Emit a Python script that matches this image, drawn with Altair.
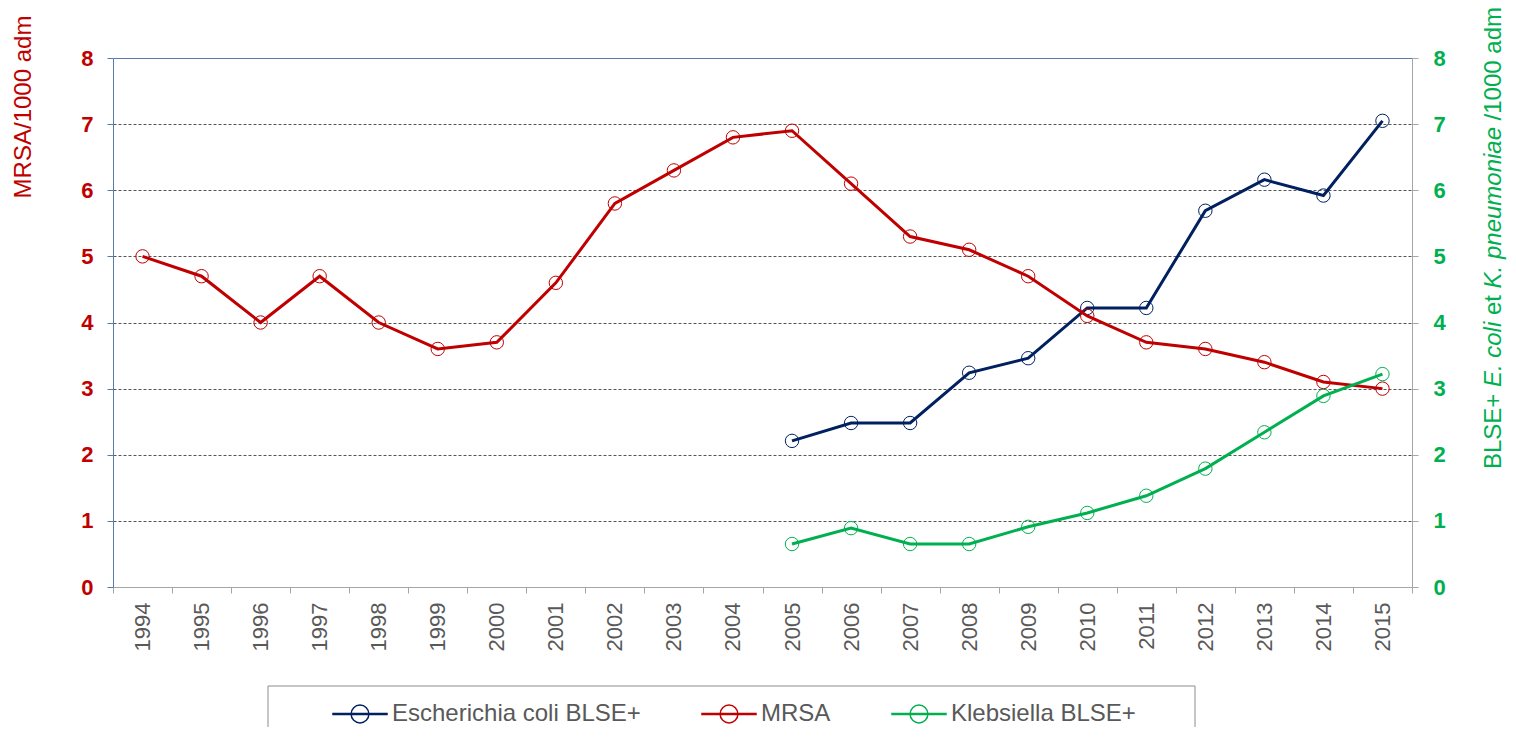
import altair as alt
import pandas as pd

years = [str(y) for y in range(1994, 2016)]
mrsa = [5.0, 4.7, 4.0, 4.7, 4.0, 3.6, 3.7, 4.6, 5.8, 6.3, 6.8, 6.9, 6.1, 5.3, 5.1, 4.7, 4.1, 3.7, 3.6, 3.4, 3.1, 3.0]
ecoli_years = [str(y) for y in range(2005, 2016)]
ecoli = [2.21, 2.48, 2.48, 3.24, 3.46, 4.22, 4.22, 5.69, 6.16, 5.92, 7.05]
kleb = [0.65, 0.89, 0.65, 0.65, 0.91, 1.12, 1.38, 1.79, 2.34, 2.89, 3.22]

series_names = ["Escherichia coli BLSE+", "MRSA", "Klebsiella BLSE+"]
series_colors = ["#002060", "#c00000", "#00b050"]
left_title = "MRSA/1000 adm"
right_title_pieces = ["BLSE+", "E. coli", "et", "K. pneumoniae", "/1000 adm"]
right_title_italic = [False, True, False, True, False]

FONT = "Liberation Sans"

df = pd.concat([
    pd.DataFrame({"year": years, "value": mrsa, "series": series_names[1]}),
    pd.DataFrame({"year": ecoli_years, "value": ecoli, "series": series_names[0]}),
    pd.DataFrame({"year": ecoli_years, "value": kleb, "series": series_names[2]}),
], ignore_index=True)

W, H = 1299, 529

legend_path = ("M-1,-0.02L1,-0.02L1,0.02L-1,0.02Z "
               "M0.33,0A0.33,0.33 0 1,1 -0.33,0A0.33,0.33 0 1,1 0.33,0Z")

legend = alt.Legend(
    title=None, orient="none", legendX=219, legendY=628, direction="horizontal",
    symbolType=legend_path, symbolSize=2916, symbolStrokeWidth=1.5,
    symbolFillColor="transparent",
    labelFont=FONT, labelFontSize=24, labelColor="#595959", labelLimit=500,
    labelOffset=4, columnPadding=58, padding=0,
)

color = alt.Color("series:N", scale=alt.Scale(domain=series_names, range=series_colors), legend=legend)

x = alt.X("year:O", scale=alt.Scale(domain=years, paddingInner=0, paddingOuter=0),
          axis=alt.Axis(title=None, labelAngle=270, labelFont=FONT, labelFontSize=22,
                        labelColor="#595959", labelPadding=9, tickSize=6,
                        tickColor="#a6a6a6", domainColor="#a6a6a6", tickBand="extent",
                        grid=False))

yvals = list(range(0, 9))

y_left = alt.Y("value:Q", scale=alt.Scale(domain=[0, 8], nice=False),
               axis=alt.Axis(orient="left", title=None, values=yvals,
                             labelFont=FONT, labelFontSize=22, labelFontWeight="bold",
                             labelColor="#c00000", labelPadding=14, tickSize=6,
                             tickColor="#5b7aa8", domainColor="#5b7aa8",
                             grid=True,
                             gridColor={"condition": {"test": "datum.value === 8", "value": "#5b7aa8"}, "value": "#555555"},
                             gridDash={"condition": {"test": "datum.value === 8", "value": []}, "value": [3, 2]},
                             gridOpacity={"condition": {"test": "datum.value === 0", "value": 0}, "value": 1},
                             gridWidth=1))

y_right = alt.Y("value:Q", scale=alt.Scale(domain=[0, 8], nice=False),
                axis=alt.Axis(orient="right", title=None, values=yvals,
                              labelFont=FONT, labelFontSize=22, labelFontWeight="bold",
                              labelColor="#00b050", labelPadding=15, tickSize=6,
                              tickColor="#a6a6a6", domainColor="#a6a6a6", grid=False))

y_none = alt.Y("value:Q", scale=alt.Scale(domain=[0, 8], nice=False), axis=None)


def series_layer(name, yenc):
    base = alt.Chart(df).transform_filter(alt.datum.series == name)
    line = base.mark_line(strokeWidth=3).encode(x=x, y=yenc, color=color)
    pts = base.mark_point(filled=False, size=180, strokeWidth=1, opacity=1).encode(
        x=x, y=yenc, color=color)
    return line + pts


one = pd.DataFrame({"k": [0]})

box = alt.Chart(one).mark_rect(fill="white", stroke="#8c8c8c", strokeWidth=1).encode(
    x=alt.value(155), x2=alt.value(155 + 927), y=alt.value(628), y2=alt.value(700))

left_t = alt.Chart(one).mark_text(font=FONT, fontSize=24, color="#c00000", angle=270,
                                  align="center", baseline="middle").encode(
    x=alt.value(24 - 113), y=alt.value(107 - 58), text=alt.value(left_title))

# right title composed of pieces (rotated, reading upward)
piece_w = [75.2, 65.3, 20.0, 161.3, 113.5]
space = 6.7
starts = []
cur = 411.0
for w in piece_w:
    starts.append(cur)
    cur -= w + space

right_t_layers = []
for txt, it, s in zip(right_title_pieces, right_title_italic, starts):
    right_t_layers.append(
        alt.Chart(one).mark_text(font=FONT, fontSize=24, color="#00b050", angle=270,
                                 align="left", baseline="middle",
                                 fontStyle="italic" if it else "normal").encode(
            x=alt.value(1494 - 113), y=alt.value(s), text=alt.value(txt)))

ecoli_l = series_layer(series_names[0], y_right)
mrsa_l = series_layer(series_names[1], y_left)
kleb_l = series_layer(series_names[2], y_none)

chart = alt.layer(box, ecoli_l, mrsa_l, kleb_l, left_t, *right_t_layers).resolve_scale(
    y="independent"
).properties(
    width=W, height=H,
    autosize=alt.AutoSizeParams(type="none"),
    padding={"left": 105, "top": 50, "right": 95, "bottom": 140},
).configure_view(stroke=None).configure(font=FONT)

chart.save("out.html", embed_options={"renderer": "svg", "actions": False})
